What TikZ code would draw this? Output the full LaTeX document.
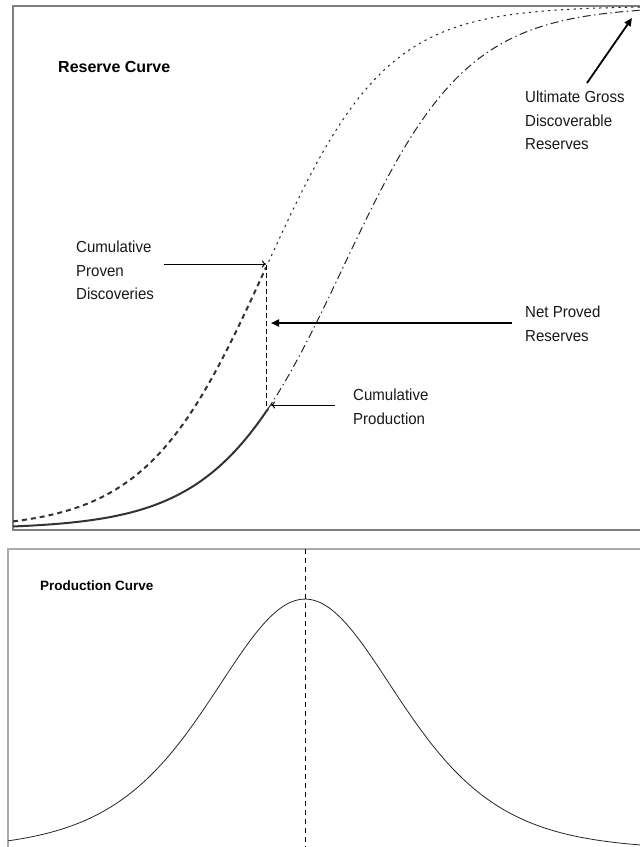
\documentclass[tikz,border=0pt]{standalone}
\usepackage{fontspec}
\setmainfont{Liberation Sans}
\newfontfamily\labfont[FakeStretch=0.94]{Liberation Sans}
\usetikzlibrary{arrows.meta}
\begin{document}
\begin{tikzpicture}[x=1pt,y=-1pt,
  frameA/.style={draw=black!50, line width=1.3pt},
  frameB/.style={draw=black!33, line width=1.3pt},
  lab/.style={font=\labfont\fontsize{16}{23.3}\selectfont, text=black!90, align=left, inner sep=0pt, anchor=north west},
  ttl/.style={font=\bfseries\fontsize{16}{19}\selectfont, inner sep=0pt, anchor=west},
  ttlsmall/.style={font=\bfseries\fontsize{13.5}{16}\selectfont, inner sep=0pt, anchor=west},
  thinarr/.style={draw=black, line width=1pt, -{To[length=4pt,width=7pt]}},
  thickarr/.style={draw=black, line width=1.8pt, -{Triangle[length=8pt,width=7pt]}},
  discdash/.style={draw=black!80, line width=2pt, dash pattern=on 5pt off 4pt},
  discdot/.style={draw=black!85, line width=1pt, dash pattern=on 2.2pt off 4.2pt},
  prodsolid/.style={draw=black!80, line width=2pt},
  proddashdot/.style={draw=black!85, line width=1pt, dash pattern=on 8pt off 3.5pt on 1.4pt off 3.5pt},
  vdash/.style={draw=black, line width=0.9pt, dash pattern=on 4.5pt off 3.5pt},
  hubbert/.style={draw=black!85, line width=0.8pt}
]
\useasboundingbox (0,0) rectangle (640,847);
\fill[white] (0,0) rectangle (640,847);

% frames
\draw[frameA] (645,6) -- (13,6) -- (13,530) -- (645,530);
\draw[frameB] (645,549) -- (8,549) -- (8,852);

% reserve curve: discoveries
\draw[discdash] plot[domain=13:266, samples=70] (\x, {529 - 523/(1+exp(-(\x-266)/60))});
\draw[discdot] plot[domain=266:640, samples=90] (\x, {529 - 523/(1+exp(-(\x-266)/60))});

% reserve curve: cumulative production
\draw[prodsolid] plot[domain=13:268, samples=70] (\x, {529 - 523/(1+exp(-(\x-343)/62))});
\draw[proddashdot] plot[domain=268:640, samples=90] (\x, {529 - 523/(1+exp(-(\x-343)/62))});

% net proved reserves vertical
\coordinate (vtop) at (266,265);
\coordinate (vbot) at (266,406);
\draw[vdash] (vtop) -- (vbot);

% labels
\node[ttl] (t1) at (58,67) {Reserve Curve};
\node[lab] (cpd) at (76,241) {Cumulative\\Proven\\Discoveries};
\node[lab] (npr) at (525,306) {Net Proved\\Reserves};
\node[lab] (cp) at (353,389) {Cumulative\\Production};
\node[lab] (ugr) at (525,91) {Ultimate Gross\\Discoverable\\Reserves};

% arrows
\coordinate (a1s) at (164,264); \coordinate (a1e) at (266,264);
\draw[thinarr] (a1s) -- (a1e);
\coordinate (a2s) at (512,323); \coordinate (a2e) at (271,323);
\draw[thickarr] (a2s) -- (a2e);
\coordinate (a3s) at (335,405); \coordinate (a3e) at (271,405);
\draw[thinarr] (a3s) -- (a3e);
\coordinate (a4s) at (587,83); \coordinate (a4e) at (632,18);
\draw[thickarr] (a4s) -- (a4e);

% production curve
\node[ttlsmall] (t2) at (40,586) {Production Curve};
\draw[hubbert] plot[domain=8:640, samples=160, smooth] (\x, {850 - 251*4/(exp((\x-305)/127)+exp(-(\x-305)/127))^2});
\coordinate (ptop) at (305,549);
\coordinate (pbot) at (305,850);
\draw[vdash, dash pattern=on 5pt off 4pt] (ptop) -- (pbot);
\end{tikzpicture}
\end{document}
